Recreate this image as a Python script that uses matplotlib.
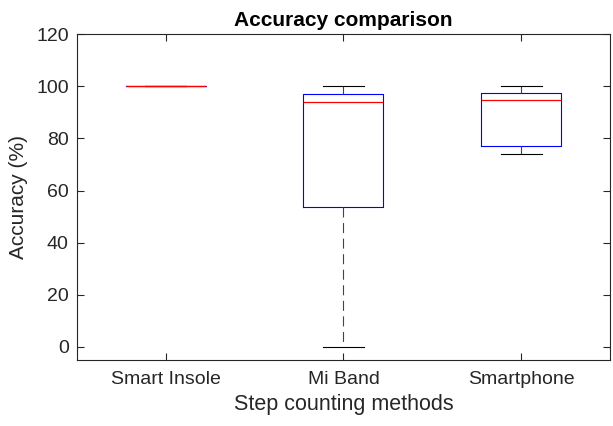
import matplotlib
matplotlib.use('Agg')
import matplotlib.pyplot as plt

# box statistics (accuracy, %)
methods = ['Smart Insole', 'Mi Band', 'Smartphone']
whislo = [100, 0, 74]
q1 = [100, 53.6, 77]
med = [100, 93.9, 94.8]
q3 = [100, 97.1, 97.5]
whishi = [100, 100, 100]

plt.rcParams['font.family'] = ['Liberation Sans', 'DejaVu Sans']

stats = []
for i in range(len(methods)):
	stats.append(dict(label=methods[i], whislo=whislo[i], q1=q1[i], med=med[i],
		q3=q3[i], whishi=whishi[i], fliers=[]))

fig = plt.figure(figsize=(6.13, 4.26), dpi=100)
ax = fig.add_axes([0.1256, 0.155, 0.8694, 0.765])

ax.bxp(stats, positions=[1, 2, 3], widths=0.45, showfliers=False,
	boxprops=dict(color='blue', linewidth=0.8),
	medianprops=dict(color='red', linewidth=0.9),
	whiskerprops=dict(color='#444444', linewidth=0.8, linestyle=(0, (9, 5))),
	capprops=dict(color='black', linewidth=0.8),
	capwidths=0.23)

ax.set_xlim(0.5, 3.5)
ax.set_ylim(-5, 120)
ax.set_yticks([0, 20, 40, 60, 80, 100, 120])
ax.set_xticks([1, 2, 3])
ax.set_xticklabels(methods)
ax.tick_params(direction='in', top=True, right=True, labelsize=14, colors='#262626',
	length=5, width=0.8)
ax.tick_params(axis='x', pad=8)
ax.tick_params(axis='y', pad=6)
for s in ax.spines.values():
	s.set_color('#262626')
	s.set_linewidth(0.8)

ax.set_title('Accuracy comparison', fontsize=15, fontweight='bold', pad=6)
ax.set_xlabel('Step counting methods', fontsize=15.5, color='#262626', labelpad=4)
ax.set_ylabel('Accuracy (%)', fontsize=15, color='#262626', labelpad=6)

fig.savefig('out.png', dpi=100)
